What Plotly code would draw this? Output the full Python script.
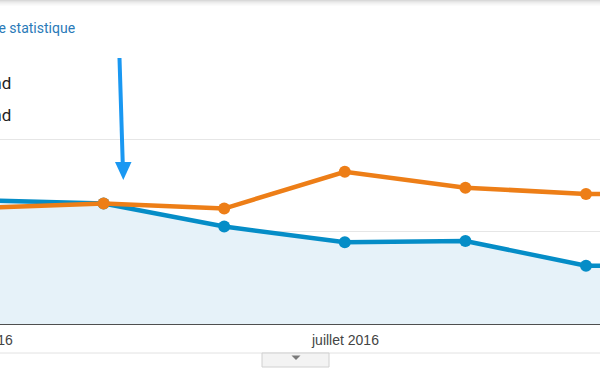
import plotly.graph_objects as go

# ---- data ----
months = ["avril 2016", "mai 2016", "juin 2016", "juillet 2016",
          "août 2016", "septembre 2016", "octobre 2016"]
blue_vals = [66.8, 65.1, 52.7, 44.2, 44.9, 31.5, 31.3]
orange_vals = [62.8, 65.1, 62.4, 82.3, 73.7, 70.3, 70.0]
label_months = ["avril 2016", "juillet 2016"]
legend_texts = ["und", "und"]
metric_link = "une statistique"

# ---- geometry ----
W, H = 600, 372
MT, MB = 120, 48
PLOT_H = H - MT - MB
X_RANGE = [0.141, 5.116]
PX_PER_UNIT = 1.85
Y_RANGE = [0, PLOT_H / PX_PER_UNIT]

def px_x(px):
    return px / W

def px_y(py):
    return (H - MB - py) / PLOT_H

def idx_paper(i):
    return (i - X_RANGE[0]) / (X_RANGE[1] - X_RANGE[0])

xs = list(range(len(months)))
BLUE = "#058dc7"
ORANGE = "#ed7e17"

fig = go.Figure()
fig.add_trace(go.Scatter(
    x=xs, y=blue_vals, mode="lines+markers",
    line=dict(color=BLUE, width=4.5), marker=dict(color=BLUE, size=12),
    fill="tozeroy", fillcolor="#e6f2f9", hoverinfo="skip"))
fig.add_trace(go.Scatter(
    x=xs, y=orange_vals, mode="lines+markers",
    line=dict(color=ORANGE, width=4.5), marker=dict(color=ORANGE, size=12),
    hoverinfo="skip"))

shapes = []
# top shadow
shadow = ["#d9d9d9", "#e4e4e4", "#ececec", "#f2f2f2", "#f7f7f7", "#fbfbfb"]
for k, c in enumerate(shadow):
    shapes.append(dict(type="rect", xref="paper", yref="paper",
                       x0=0, x1=1, y0=px_y(k), y1=px_y(k + 1),
                       fillcolor=c, line=dict(width=0), layer="above"))
# light line under label row
shapes.append(dict(type="line", xref="paper", yref="paper",
                   x0=0, x1=1, y0=px_y(353), y1=px_y(353),
                   line=dict(color="#e2e2e2", width=1)))
# button
shapes.append(dict(type="rect", xref="paper", yref="paper",
                   x0=px_x(262), x1=px_x(329), y0=px_y(367), y1=px_y(353),
                   fillcolor="#f3f3f3", line=dict(color="#d0d0d0", width=1)))
shapes.append(dict(type="path", xref="paper", yref="paper",
                   path=f"M {px_x(291.5)} {px_y(355.5)} L {px_x(300.5)} {px_y(355.5)} L {px_x(296)} {px_y(360)} Z",
                   fillcolor="#7a7a7a", line=dict(width=0)))
# arrow
ARROW = "#1a98f2"
shapes.append(dict(type="line", xref="paper", yref="paper",
                   x0=px_x(119.5), y0=px_y(58), x1=px_x(122.8), y1=px_y(165),
                   line=dict(color=ARROW, width=4)))
shapes.append(dict(type="path", xref="paper", yref="paper",
                   path=f"M {px_x(115)} {px_y(162)} L {px_x(131.5)} {px_y(162)} L {px_x(123.3)} {px_y(180)} Z",
                   fillcolor=ARROW, line=dict(width=0)))

annotations = []
annotations.append(dict(xref="paper", yref="paper", x=px_x(77), y=px_y(28),
                        xanchor="right", yanchor="middle", showarrow=False,
                        text=metric_link,
                        font=dict(family="Roboto", size=14, color="#2a7ab8")))
for txt, yy in zip(legend_texts, [83, 115]):
    annotations.append(dict(xref="paper", yref="paper", x=px_x(12.5), y=px_y(yy),
                            xanchor="right", yanchor="middle", showarrow=False,
                            text=txt,
                            font=dict(family="Roboto", size=17, color="#222222")))
for lab in label_months:
    i = months.index(lab)
    annotations.append(dict(xref="paper", yref="paper", x=idx_paper(i), y=px_y(340),
                            xanchor="center", yanchor="middle", showarrow=False,
                            text=lab,
                            font=dict(family="Liberation Sans, Arial", size=14, color="#444444")))

fig.update_layout(
    width=W, height=H, margin=dict(l=0, r=0, t=MT, b=MB),
    paper_bgcolor="white", plot_bgcolor="white", showlegend=False,
    xaxis=dict(range=X_RANGE, showgrid=False, zeroline=False,
               showticklabels=False, ticks="", showline=False, fixedrange=True),
    yaxis=dict(range=Y_RANGE, tickvals=[0, 50, 100], showgrid=True,
               gridcolor="#e6e6e6", gridwidth=1, zeroline=True,
               zerolinecolor="#4f4f4f", zerolinewidth=2,
               showticklabels=False, ticks="", showline=False, fixedrange=True),
    shapes=shapes, annotations=annotations,
)

fig.write_html("out.html")
